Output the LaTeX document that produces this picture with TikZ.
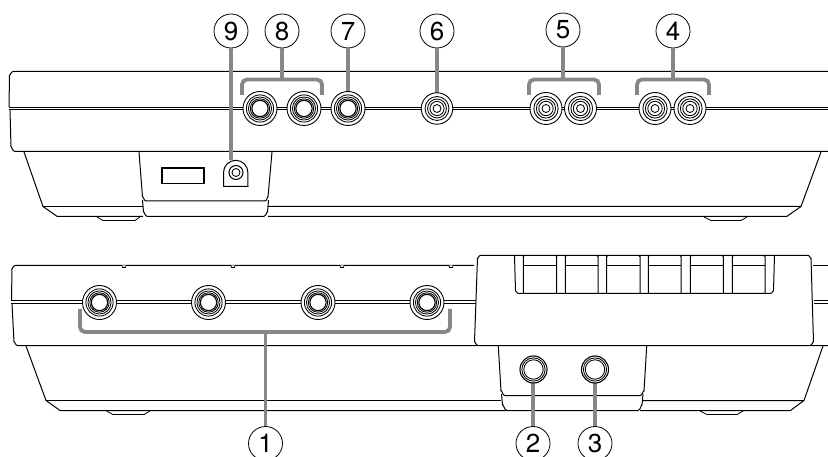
\documentclass[tikz,border=0pt]{standalone}
\usepackage{fontspec}
\setmainfont{TeX Gyre Heros}
\tikzset{
  outline/.style={line width=1pt,black,line join=round},
  thin outline/.style={line width=0.8pt,black},
  lead/.style={line width=3.8pt,draw=black!47},
  callout/.style={circle,draw=black,line width=0.8pt,fill=white,minimum size=34pt,inner sep=0pt,font=\fontsize{26}{26}\selectfont},
  jackbody/.style={circle,draw=black,line width=0.9pt,fill=white,inner sep=0pt},
  ring/.style={line width=0.85pt,black},
}
% name, x, y, outer diameter
\newcommand{\PhoneJack}[4]{%
  \node[jackbody,minimum size=#4pt] (#1) at (#2,#3) {};
  \foreach \k in {0.8,0.68,0.57}{\draw[ring] (#1.center) circle[radius=\k*#4/2];}
  \draw[ring,line width=1.1pt] (#1.center) circle[radius=0.48*#4/2];
}
\newcommand{\RcaJack}[4]{%
  \node[jackbody,minimum size=#4pt] (#1) at (#2,#3) {};
  \foreach \k in {0.76,0.6,0.45,0.25}{\draw[ring] (#1.center) circle[radius=\k*#4/2];}
}
\newcommand{\SmallJack}[4]{%
  \node[jackbody,minimum size=#4pt,line width=1.1pt] (#1) at (#2,#3) {};
  \foreach \k in {0.86,0.72}{\draw[ring] (#1.center) circle[radius=\k*#4/2];}
}
\begin{document}
\begin{tikzpicture}[x=1pt,y=-1pt]
\useasboundingbox (0,0) rectangle (828,457);
\clip (0,0) rectangle (828,457);
% ---------- TOP UNIT ----------
\draw[outline] (828,71.5) -- (13,71.5) to[out=180,in=-90] (9.5,75) -- (9,107);
\draw[outline] (8.5,107.3) -- (828,107.3);
\draw[outline] (8.5,110) -- (828,110);
\draw[outline] (10,110) -- (11,147) to[out=90,in=180] (14.5,151.3) -- (828,151.3);
\draw[outline] (24,152) -- (43,206.5) -- (57,216.3) -- (143,216.3);
\draw[outline] (43,206.5) -- (143,206.5);
\draw[outline] (268,206.5) -- (801,206.5) -- (787,216.3) -- (268,216.3);
\draw[outline] (821,152) -- (801,206.5);
% panel
\draw[outline] (139,152) -- (142.5,197) to[out=85,in=180] (146,201) -- (265,201) to[out=0,in=95] (268,197) -- (272,152);
\draw[outline] (142.5,200) -- (143.5,212) to[out=85,in=180] (147,216.3) -- (264,216.3) to[out=0,in=95] (267.5,212) -- (268.5,200);
% feet
\draw[thin outline] (97,217) -- (103,220.5) -- (135,220.5) -- (140,217);
\draw[thin outline] (704,217) -- (711,220.5) -- (741,220.5) -- (747,217);
% usb
\draw[line width=1.4pt,black] (162,168) rectangle (204,183.5);
% dc jack
\node[circle,inner sep=0pt,minimum size=14pt,draw=black,line width=1pt] (dc) at (236,172.5) {};
\draw[ring] (dc.center) circle[radius=4];
\draw[outline] (223.5,186.5) -- (223.5,172.5) arc[start angle=180,end angle=360,radius=12.2] -- (248,186.5) -- cycle;
% ---------- BOTTOM UNIT ----------
\draw[outline] (474,265.5) -- (15,265.5) to[out=180,in=-90] (12,268.5) -- (11.5,300.5);
\draw[outline] (11,301) -- (476,301);
\draw[outline] (11,303.5) -- (476,303.5);
\draw[outline] (12,303.5) -- (14,342) to[out=90,in=180] (17.5,345.6) -- (828,345.6);
\draw[outline] (26,346) -- (46,400.5) -- (60,410.5) -- (507,410.5);
\draw[outline] (46,400.5) -- (501,400.5);
\draw[outline] (643,400.5) -- (804,400.5) -- (790.5,410.5) -- (640,410.5);
\draw[outline] (823,346) -- (804,400.5);
\foreach \nx in {124,233,342,451}{\draw[thin outline,fill=white] (\nx-2,265.5) -- (\nx-1.5,267.5) -- (\nx+1.5,267.5) -- (\nx+2,265.5);}
% switch block
\draw[outline] (474.5,342) to[out=90,in=180] (478,345.6);
\draw[outline] (474.5,342) -- (477.5,258) to[out=-90,in=180] (480.5,255.3) -- (808,255.3) to[out=0,in=-90] (811,258) -- (813.5,342) to[out=90,in=0] (810,345.6);
\draw[outline] (813,265.5) -- (828,265.5);
\draw[outline] (813.5,301) -- (828,301) (813.5,303.5) -- (828,303.5);
\draw[outline] (514.5,255.3) -- (515.5,291) to[out=90,in=180] (518,293.5) -- (771,293.5) to[out=0,in=90] (773.5,291) -- (774.5,255.3);
\foreach \xa/\xb in {523.3/556.7,565.3/598,606.7/640,648.3/681,690.3/723.3,732.3/765}{
  \draw[outline] (\xa,293.5) -- (\xa,256.5) to[out=-90,in=180] (\xa+1.5,255.3);
  \draw[outline] (\xb,293.5) -- (\xb,256.5) to[out=-90,in=0] (\xb-1.5,255.3);
  \draw[outline] (\xa,265.5) -- (\xb,265.5);
}
% panel bottom
\draw[outline] (498.3,346) -- (501,391) to[out=85,in=180] (505,395.7) -- (640,395.7) to[out=0,in=95] (644,391) -- (646.7,346);
\draw[outline] (501.5,394) -- (502.5,405) to[out=85,in=180] (507,410.5) -- (638,410.5) to[out=0,in=95] (642,405) -- (643,394);
% feet
\draw[thin outline] (106.5,411) -- (113,414.5) -- (144,414.5) -- (150,411);
\draw[thin outline] (700,411) -- (707,414.5) -- (737,414.5) -- (743,411);
% ---------- CALLOUTS ----------
\node[callout] (l9) at (231,31) {9};
\node[callout] (l8) at (282,31) {8};
\node[callout] (l7) at (348,31) {7};
\node[callout] (l6) at (437,31) {6};
\node[callout] (l5) at (563,30) {5};
\node[callout] (l4) at (673,31) {4};
\node[callout] (l1) at (265.5,443.5) {1};
\node[callout] (l2) at (533,443.5) {2};
\node[callout] (l3) at (595,443.5) {3};
% ---------- CONNECTOR ANCHORS ----------
\coordinate (t9) at (231,160.5);
\coordinate (t8) at (282,79.5); \coordinate (b8l) at (242,95); \coordinate (b8r) at (322,95);
\coordinate (t5) at (563,79.5); \coordinate (b5l) at (529,95); \coordinate (b5r) at (599,95);
\coordinate (t4) at (673,79.5); \coordinate (b4l) at (637,95); \coordinate (b4r) at (709,95);
\coordinate (t1) at (265.5,332); \coordinate (b1l) at (80,309); \coordinate (b1r) at (450,309);
% leads
\draw[lead] (l9) -- (t9);
\draw[lead] (l8) -- (t8);
\draw[lead,rounded corners=5pt] (b8l) |- (t8) -| (b8r);
\draw[lead] (l5) -- (t5);
\draw[lead,rounded corners=5pt] (b5l) |- (t5) -| (b5r);
\draw[lead] (l4) -- (t4);
\draw[lead,rounded corners=5pt] (b4l) |- (t4) -| (b4r);
\draw[lead] (l1) -- (t1);
\draw[lead,rounded corners=5pt] (b1l) |- (t1) -| (b1r);
\draw[lead] (l7) -- (348,92);
\draw[lead] (l6) -- (437,93);
\draw[lead] (l2) -- (533,383);
\draw[lead] (l3) -- (595,383);
% ---------- JACKS ----------
\PhoneJack{j8a}{260}{108.5}{34}
\PhoneJack{j8b}{304}{108.5}{34}
\PhoneJack{j7}{348}{108.5}{34}
\RcaJack{j6}{437}{108.5}{31.5}
\RcaJack{j5a}{546}{108.5}{32}
\RcaJack{j5b}{580.5}{108.5}{32}
\RcaJack{j4a}{655}{108.5}{32}
\RcaJack{j4b}{690}{108.5}{32}
\PhoneJack{j1a}{99.5}{302.5}{34}
\PhoneJack{j1b}{208.5}{302.5}{34}
\PhoneJack{j1c}{318}{302.5}{34}
\PhoneJack{j1d}{427}{302.5}{34}
\SmallJack{j2}{533.5}{369.5}{27}
\SmallJack{j3}{595}{369.5}{27}
\end{tikzpicture}
\end{document}
